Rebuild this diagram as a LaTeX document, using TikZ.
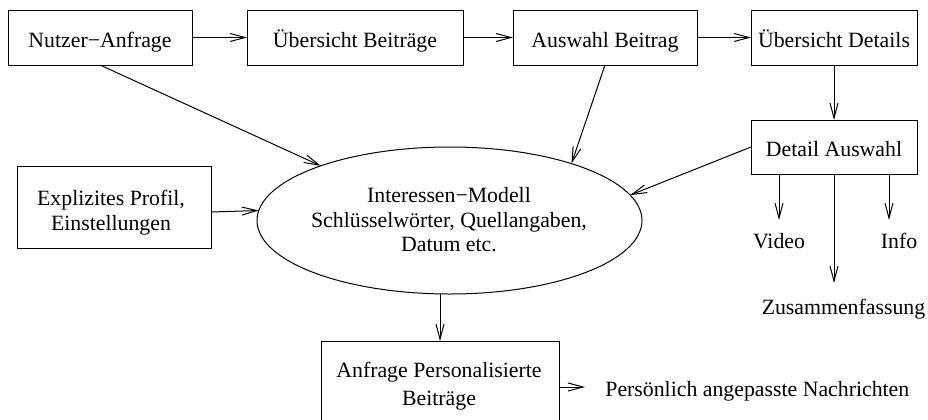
\documentclass[tikz,border=0pt]{standalone}
\usepackage{fontspec}
\setmainfont{Liberation Serif}
\usetikzlibrary{shapes.geometric,arrows.meta}
\begin{document}
\begin{tikzpicture}[x=0.5pt,y=-0.5pt,
  font=\fontsize{10.9pt}{12.25pt}\selectfont,
  box/.style={draw,line width=0.5pt,inner sep=0pt,outer sep=0pt},
  onerow/.style={box,text height=9.5pt,text depth=0pt},
  flow/.style={line width=0.5pt,-{Straight Barb[length=7.5pt,width=4pt]}},
  lbl/.style={inner sep=0pt,anchor=base}]
\useasboundingbox (0,0) rectangle (928,419);
\clip (0,0) rectangle (928,419);

% top row of steps
\node[onerow,minimum width=92pt,minimum height=27.5pt] (nutzer) at (100,37.5) {Nutzer−Anfrage};
\node[onerow,minimum width=108pt,minimum height=27.5pt] (uebB) at (355,37.5) {Übersicht Beiträge};
\node[onerow,minimum width=92pt,minimum height=27.5pt] (ausw) at (605,37.5) {Auswahl Beitrag};
\node[onerow,minimum width=83pt,minimum height=27.5pt] (uebD) at (834,37.5) {Übersicht Details};
\node[onerow,minimum width=83pt,minimum height=27pt] (detail) at (834,147) {Detail Auswahl};

% explicit profile
\node[box,minimum width=97pt,minimum height=41pt] (profil) at (114,207) {};
\node[align=center,inner sep=0pt,font=\fontsize{10.9pt}{12.5pt}\selectfont] (profiltext) at (111,212.4) {Explizites Profil,\\Einstellungen};

% interest model
\node[ellipse,draw,line width=0.5pt,inner sep=0pt,outer sep=0pt,minimum width=192.5pt,minimum height=73.5pt] (ell) at (449.5,220.5) {};
\node[align=center,inner sep=0pt] (elltext) at (449,220) {Interessen−Modell\\Schlüsselwörter, Quellangaben,\\Datum etc.};

% personalised request
\node[box,minimum width=119pt,minimum height=45.5pt] (anfrage) at (440,386.5) {};
\node[align=center,inner sep=0pt,font=\fontsize{10.9pt}{14pt}\selectfont] (anfragetext) at (439,386) {Anfrage Personalisierte\\Beiträge};

% free labels
\node[lbl,anchor=base west] (pers) at (605,396) {Persönlich angepasste Nachrichten};
\node[lbl] (video) at (779,248) {Video};
\node[lbl] (info) at (899,248) {Info};
\node[lbl] (zus) at (843.5,314) {Zusammenfassung};

\coordinate (vEnd) at (779,220);
\coordinate (iEnd) at (889,220);
\coordinate (zEnd) at (834,283);
\coordinate (pEnd) at (585,387);

% connectors
\draw[flow] (nutzer) -- (uebB);
\draw[flow] (uebB) -- (ausw);
\draw[flow] (ausw) -- (uebD);
\draw[flow] (uebD) -- (detail);
\draw[flow] (nutzer.south) -- (ell.157);
\draw[flow] (ausw.south) -- (ell.25.7);
\draw[flow] (detail.west) -- (ell.8.5);
\draw[flow] ([yshift=-2.5pt]profil.east) -- (ell.177.5);
\draw[flow] (anfrage.north |- ell.south) -- (anfrage.north);
\draw[flow] (anfrage.east |- pEnd) -- (pEnd);
\draw[flow] (detail.south -| vEnd) -- (vEnd);
\draw[flow] (detail.south -| iEnd) -- (iEnd);
\draw[flow] (detail.south) -- (zEnd);
\end{tikzpicture}
\end{document}
